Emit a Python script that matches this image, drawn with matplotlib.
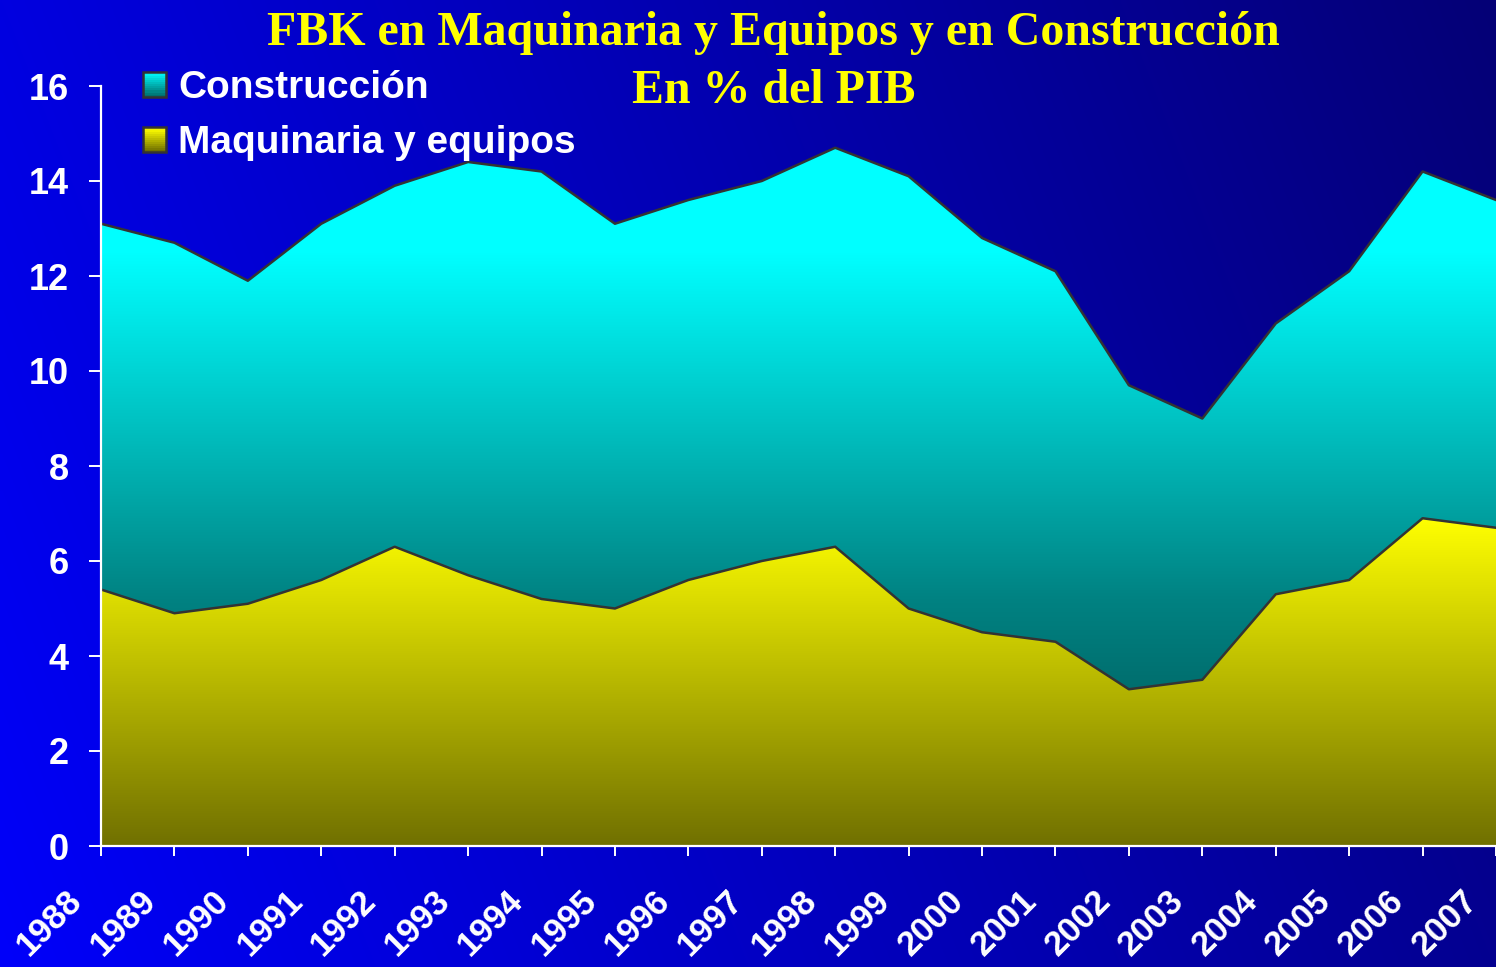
import numpy as np
import matplotlib
matplotlib.use('Agg')
import matplotlib.pyplot as plt
from matplotlib.patches import Patch, Rectangle
from matplotlib.legend_handler import HandlerBase
from matplotlib.transforms import ScaledTranslation

# datos (% del PIB)
years = list(range(1988, 2008))
maquinaria = [5.4, 4.9, 5.1, 5.6, 6.3, 5.7, 5.2, 5.0, 5.6, 6.0,
              6.3, 5.0, 4.5, 4.3, 3.3, 3.5, 5.3, 5.6, 6.9, 6.7]
construccion = [7.7, 7.8, 6.8, 7.5, 7.6, 8.7, 9.0, 8.1, 8.0, 8.0,
                8.4, 9.1, 8.3, 7.8, 6.4, 5.5, 5.7, 6.5, 7.3, 6.9]
etiquetas = ['Construcción', 'Maquinaria y equipos']
titulo1 = 'FBK en Maquinaria y Equipos y en Construcción'
titulo2 = 'En % del PIB'

total = [m + c for m, c in zip(maquinaria, construccion)]

W, H = 1496, 967
fig = plt.figure(figsize=(W / 100, H / 100), dpi=100)

# fondo degradado azul
bg = fig.add_axes([0, 0, 1, 1], zorder=0)
xs = np.linspace(0, 1, 300)
ys = np.linspace(1, 0, 200)
X, Y = np.meshgrid(xs, ys)
t = np.clip(0.8 * X + 0.2 * Y, 0, 1)[..., None]
c0 = np.array([0, 0, 250]) / 255
c1 = np.array([5, 0, 118]) / 255
bg.imshow(c0 + (c1 - c0) * t, aspect='auto', extent=[0, 1, 0, 1], interpolation='bilinear')
bg.set_axis_off()

left, bottom, top = 101, 846, 86
ax = fig.add_axes([left / W, 1 - bottom / H, 1 - left / W, (bottom - top) / H], zorder=1)
ax.set_facecolor('none')

# degradados verticales de las areas
v = np.linspace(16, 0, 600)
nivel_con = np.interp(v, [3.3, 5.2, 12.5], [110, 130, 255])
g_con = np.zeros((600, 1, 3))
g_con[:, 0, 1] = nivel_con / 255
g_con[:, 0, 2] = nivel_con / 255
nivel_maq = np.interp(v, [0, 6.9], [112, 255])
g_maq = np.zeros((600, 1, 3))
g_maq[:, 0, 0] = nivel_maq / 255
g_maq[:, 0, 1] = nivel_maq / 255

p_maq = ax.fill_between(years, 0, maquinaria, facecolor='none', edgecolor='none')
p_con = ax.fill_between(years, maquinaria, total, facecolor='none', edgecolor='none')
for grad, poly in [(g_maq, p_maq), (g_con, p_con)]:
    im = ax.imshow(grad, extent=[1988, 2007, 0, 16], aspect='auto', interpolation='bilinear', zorder=1)
    im.set_clip_path(poly.get_paths()[0], transform=ax.transData)

ax.plot(years, total, color='#333333', lw=1.8, zorder=3)
ax.plot(years, maquinaria, color='#333333', lw=1.8, zorder=3)

ax.set_xlim(1988, 1988 + (W - left) / 73.98)
ax.set_ylim(0, 16)

for s in ['top', 'right']:
    ax.spines[s].set_visible(False)
for s in ['left', 'bottom']:
    ax.spines[s].set_color('white')
    ax.spines[s].set_linewidth(1.6)
    ax.spines[s].set_zorder(4)

ax.set_yticks(range(0, 17, 2))
ax.set_xticks(years)
ax.tick_params(axis='y', colors='white', length=9, width=1.4, pad=14)
ax.tick_params(axis='x', colors='white', length=7.5, width=1.4, pad=20)
for lab in ax.get_yticklabels():
    lab.set_fontfamily('Liberation Sans')
    lab.set_fontweight('bold')
    lab.set_fontsize(26)
ax.set_xticklabels([str(y) for y in years], rotation=45, ha='right', va='top',
                   fontfamily='Liberation Sans', fontweight='bold', fontsize=25)
off = ScaledTranslation(-0.12, 0, fig.dpi_scale_trans)
for lab in ax.get_xticklabels():
    lab.set_transform(lab.get_transform() + off)


# leyenda con cuadros degradados
class Degradado(HandlerBase):
    def __init__(self, ca, cb):
        super().__init__()
        self.ca = np.array(ca) / 255
        self.cb = np.array(cb) / 255

    def create_artists(self, legend, orig_handle, xdescent, ydescent, width, height, fontsize, trans):
        arts = []
        n = 12
        for i in range(n):
            c = self.ca + (self.cb - self.ca) * i / (n - 1)
            arts.append(Rectangle((-xdescent, -ydescent + height * (1 - (i + 1) / n)), width, height / n,
                                  facecolor=c, edgecolor='none', transform=trans))
        arts.append(Rectangle((-xdescent, -ydescent), width, height, facecolor='none',
                              edgecolor='#333333', lw=1.8, transform=trans))
        return arts


h_con = Patch()
h_maq = Patch()
leg = fig.legend([h_con, h_maq], etiquetas, loc='upper left',
                 bbox_to_anchor=(143 / W, 1 - 70 / H), frameon=False,
                 prop={'family': 'Liberation Sans', 'weight': 'bold', 'size': 28},
                 labelcolor='white', handlelength=0.6, handleheight=0.6,
                 handletextpad=0.3, labelspacing=0.5, borderpad=0, borderaxespad=0,
                 handler_map={h_con: Degradado((0, 255, 255), (0, 110, 110)),
                              h_maq: Degradado((255, 255, 0), (110, 110, 0))})
leg.set_zorder(5)

fig.text(773 / W, 1 - 45 / H, titulo1, ha='center', va='baseline', color='#FFFF00',
         fontfamily='Liberation Serif', fontweight='bold', fontsize=34.5, zorder=5)
fig.text(774 / W, 1 - 103 / H, titulo2, ha='center', va='baseline', color='#FFFF00',
         fontfamily='Liberation Serif', fontweight='bold', fontsize=34.5, zorder=5)

fig.savefig('out.png', dpi=100)
